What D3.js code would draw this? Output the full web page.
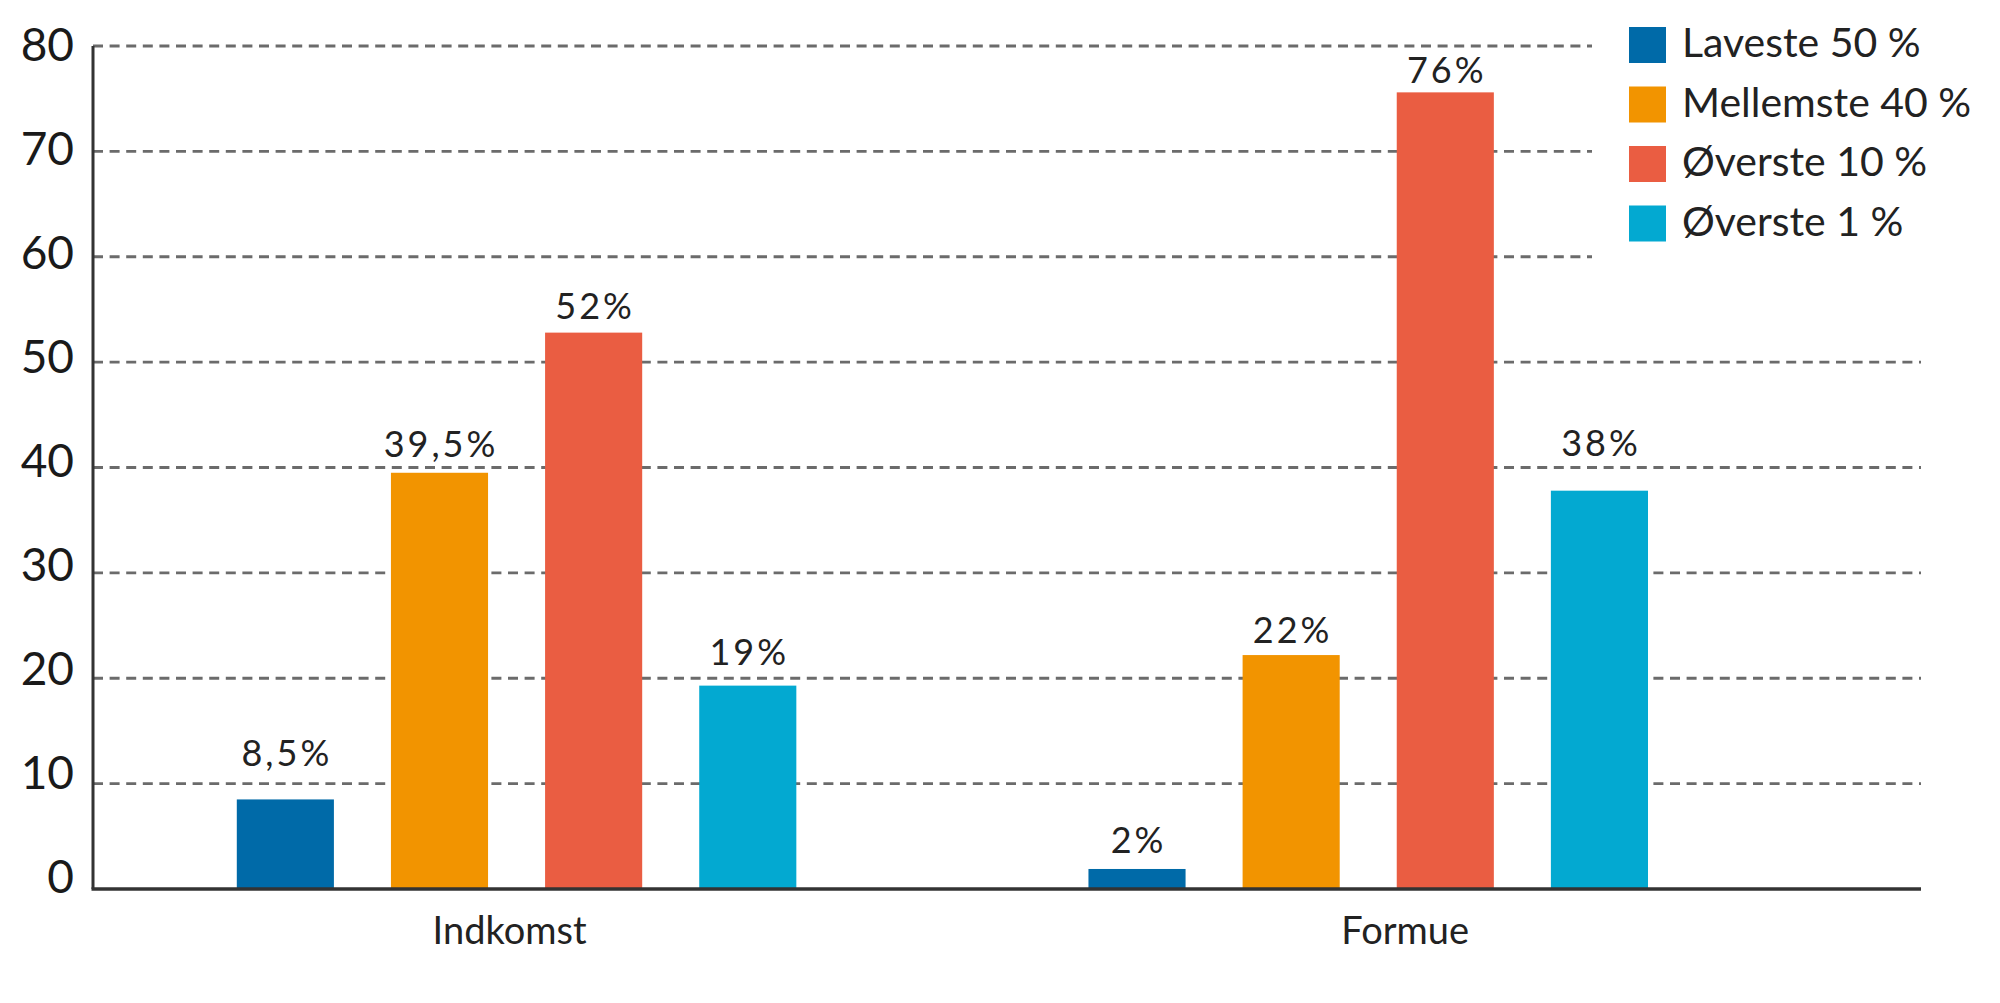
<!DOCTYPE html>
<html>
<head>
<meta charset="utf-8">
<script src="https://cdn.jsdelivr.net/npm/d3@7"></script>
<style>
  html, body { margin: 0; padding: 0; background: #ffffff; }
  svg { display: block; font-family: Lato, "Open Sans", sans-serif; }
</style>
</head>
<body>
<svg id="chart" width="2000" height="1003"></svg>
<script>
// ---- data ----
const groups = ["Indkomst", "Formue"];
const series = ["Laveste 50 %", "Mellemste 40 %", "Øverste 10 %", "Øverste 1 %"];
const colors = ["#006aa8", "#f29400", "#ea5d42", "#03a9d1"];
const indkomstValues = [8.5, 39.5, 52.8, 19.3];
const formueValues = [1.9, 22.2, 75.6, 37.8];
const indkomstLabels = ["8,5%", "39,5%", "52%", "19%"];
const formueLabels = ["2%", "22%", "76%", "38%"];
// height (in value units) at which each value label sits
const indkomstLabelAt = [11.7, 41.0, 54.1, 21.3];
const formueLabelAt = [3.4, 23.35, 76.5, 41.1];
const yTicks = [0, 10, 20, 30, 40, 50, 60, 70, 80];

(function () {
const values = [indkomstValues, formueValues];
const labels = [indkomstLabels, formueLabels];
const labelAt = [indkomstLabelAt, formueLabelAt];

// ---- layout ----
const svg = d3.select("#chart");
svg.append("rect").attr("width", 2000).attr("height", 1003).attr("fill", "#fff");

const plotLeft = 93, plotRight = 1921, plotTop = 46, plotBottom = 889;
const y = d3.scaleLinear().domain([0, 80]).range([plotBottom, plotTop]);
// tick labels in the original drift slightly from their gridlines
const yLabel = d3.scaleLinear().domain([0, 80]).range([875, 43.5]);
const x0 = d3.scaleBand().domain(groups).range([plotLeft, plotRight])
  .paddingInner(0.343).paddingOuter(0.2447).align(0.345);
const x1 = d3.scaleBand().domain(series).range([0, x0.bandwidth()]).paddingInner(0.37);
const color = d3.scaleOrdinal().domain(series).range(colors);

// gridlines (top ones shortened by the legend)
const legendGridEnd = 1592;
svg.append("g").selectAll("line")
  .data(yTicks.filter(d => d > 0))
  .join("line")
  .attr("x1", plotLeft)
  .attr("x2", d => d >= 60 ? legendGridEnd : plotRight)
  .attr("y1", d => y(d)).attr("y2", d => y(d))
  .attr("stroke", "#6b6b6b")
  .attr("stroke-width", 2.8)
  .attr("stroke-dasharray", "10,6.6");

// y tick labels
svg.append("g").selectAll("text")
  .data(yTicks)
  .join("text")
  .attr("x", 74)
  .attr("y", d => yLabel(d))
  .attr("text-anchor", "end")
  .attr("dominant-baseline", "central")
  .attr("font-size", 46)
  .attr("fill", "#1a1a1a")
  .text(d => d);

// bars
const gGroups = svg.append("g").selectAll("g")
  .data(groups)
  .join("g")
  .attr("transform", d => `translate(${x0(d)},0)`);

const rows = (g, gi) => series.map((s, si) => ({
  s, v: values[gi][si], l: labels[gi][si], at: labelAt[gi][si]
}));

gGroups.selectAll("rect")
  .data(rows)
  .join("rect")
  .attr("x", d => x1(d.s))
  .attr("y", d => y(d.v))
  .attr("width", x1.bandwidth())
  .attr("height", d => y(0) - y(d.v))
  .attr("fill", d => color(d.s));

const ls = 3;
gGroups.selectAll("text.val")
  .data(rows)
  .join("text")
  .attr("class", "val")
  .attr("x", d => x1(d.s) + x1.bandwidth() / 2 + ls / 2)
  .attr("y", d => y(d.at))
  .attr("text-anchor", "middle")
  .attr("font-size", 36)
  .attr("letter-spacing", ls)
  .attr("fill", "#222")
  .text(d => d.l);

// axes lines
svg.append("line").attr("x1", plotLeft).attr("x2", plotLeft).attr("y1", plotTop).attr("y2", plotBottom)
  .attr("stroke", "#333").attr("stroke-width", 3);
svg.append("line").attr("x1", plotLeft - 1.5).attr("x2", plotRight).attr("y1", plotBottom).attr("y2", plotBottom)
  .attr("stroke", "#333").attr("stroke-width", 3.5);

// category labels
const labelShift = { "Indkomst": -7, "Formue": 37 };
svg.append("g").selectAll("text")
  .data(groups)
  .join("text")
  .attr("x", d => x0(d) + x0.bandwidth() / 2 + labelShift[d])
  .attr("y", 944)
  .attr("text-anchor", "middle")
  .attr("font-size", 38)
  .attr("fill", "#222")
  .text(d => d);

// legend
const legend = svg.append("g").attr("transform", "translate(1629,27)");
const li = legend.selectAll("g")
  .data(series)
  .join("g")
  .attr("transform", (d, i) => `translate(0,${i * 59.5})`);
li.append("rect").attr("width", 37).attr("height", 36).attr("fill", d => color(d));
li.append("text")
  .attr("x", 53).attr("y", 30)
  .attr("font-size", 41)
  .attr("fill", "#222")
  .text(d => d);
})();
</script>
</body>
</html>
